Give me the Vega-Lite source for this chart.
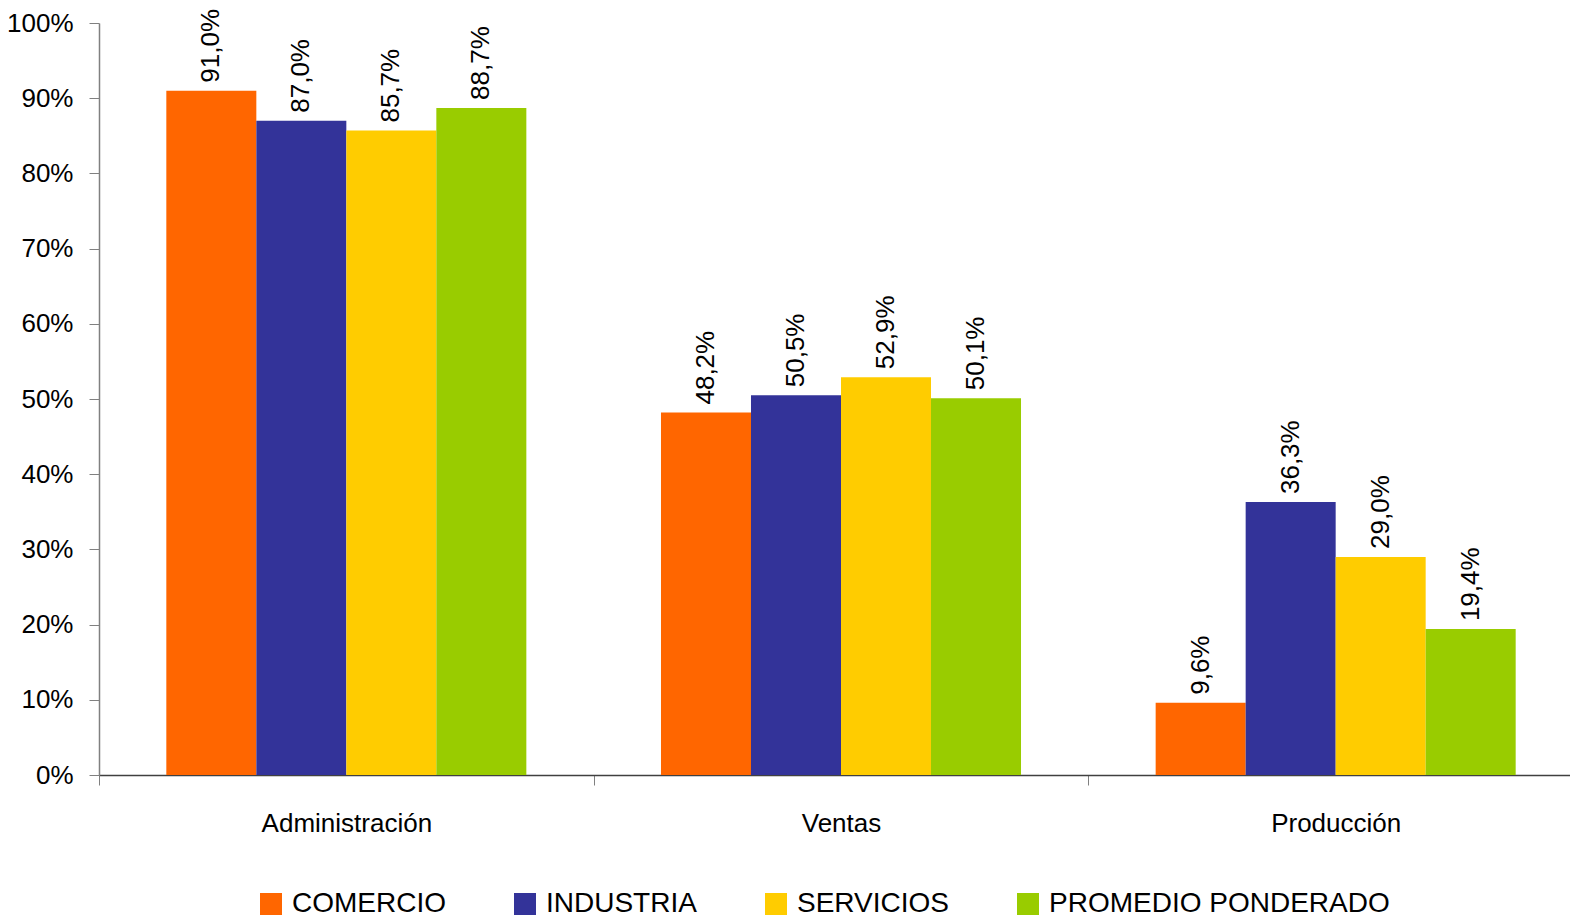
{
  "$schema": "https://vega.github.io/schema/vega-lite/v6.json",
  "width": 1484,
  "height": 752,
  "autosize": {"type": "none"},
  "padding": {"left": 99, "top": 23, "right": -13, "bottom": 143},
  "background": "white",
  "config": {
    "view": {"stroke": null},
    "font": "Liberation Sans",
    "text": {"font": "Liberation Sans"}
  },
  "data": {
    "values": [
      {"area": "Administración", "sector": "COMERCIO", "value": 91.0},
      {"area": "Administración", "sector": "INDUSTRIA", "value": 87.0},
      {"area": "Administración", "sector": "SERVICIOS", "value": 85.7},
      {"area": "Administración", "sector": "PROMEDIO PONDERADO", "value": 88.7},
      {"area": "Ventas", "sector": "COMERCIO", "value": 48.2},
      {"area": "Ventas", "sector": "INDUSTRIA", "value": 50.5},
      {"area": "Ventas", "sector": "SERVICIOS", "value": 52.9},
      {"area": "Ventas", "sector": "PROMEDIO PONDERADO", "value": 50.1},
      {"area": "Producción", "sector": "COMERCIO", "value": 9.6},
      {"area": "Producción", "sector": "INDUSTRIA", "value": 36.3},
      {"area": "Producción", "sector": "SERVICIOS", "value": 29.0},
      {"area": "Producción", "sector": "PROMEDIO PONDERADO", "value": 19.4}
    ]
  },
  "transform": [
    {"calculate": "replace(format(datum.value, '.1f'), '.', ',') + '%'", "as": "label"}
  ],
  "encoding": {
    "x": {
      "field": "area",
      "type": "nominal",
      "sort": ["Administración", "Ventas", "Producción"],
      "scale": {"paddingInner": 0, "paddingOuter": 0},
      "axis": {
        "title": null,
        "labelAngle": 0,
        "labelFont": "Liberation Sans",
        "labelFontSize": 26,
        "labelColor": "#000",
        "labelPadding": 25,
        "labelLimit": 400,
        "tickBand": "extent",
        "tickSize": 10,
        "tickColor": "#808080",
        "domainColor": "#404040",
        "domainWidth": 1.5
      }
    },
    "xOffset": {
      "field": "sector",
      "type": "nominal",
      "sort": ["COMERCIO", "INDUSTRIA", "SERVICIOS", "PROMEDIO PONDERADO"],
      "scale": {"paddingInner": 0, "paddingOuter": 0.748}
    },
    "y": {
      "field": "value",
      "type": "quantitative",
      "scale": {"domain": [0, 100], "nice": false},
      "axis": {
        "title": null,
        "values": [0, 10, 20, 30, 40, 50, 60, 70, 80, 90, 100],
        "labelExpr": "datum.value + '%'",
        "grid": false,
        "labelFont": "Liberation Sans",
        "labelFontSize": 26,
        "labelColor": "#000",
        "labelPadding": 16,
        "tickSize": 10,
        "tickColor": "#808080",
        "domainColor": "#808080",
        "domainWidth": 1.5
      }
    }
  },
  "layer": [
    {
      "mark": {"type": "bar"},
      "encoding": {
        "color": {
          "field": "sector",
          "type": "nominal",
          "sort": ["COMERCIO", "INDUSTRIA", "SERVICIOS", "PROMEDIO PONDERADO"],
          "scale": {
            "domain": ["COMERCIO", "INDUSTRIA", "SERVICIOS", "PROMEDIO PONDERADO"],
            "range": ["#FF6600", "#333399", "#FFCC00", "#99CC00"]
          },
          "legend": {
            "title": null,
            "orient": "none",
            "direction": "horizontal",
            "legendX": 158,
            "legendY": 867,
            "symbolType": "square",
            "symbolSize": 484,
            "symbolStrokeWidth": 0,
            "labelFont": "Liberation Sans",
            "labelFontSize": 28,
            "labelColor": "#000",
            "labelOffset": 7,
            "columnPadding": 65,
            "labelLimit": 400
          }
        }
      }
    },
    {
      "mark": {
        "type": "text",
        "angle": 270,
        "align": "left",
        "baseline": "middle",
        "dx": 8,
        "fontSize": 26,
        "font": "Liberation Sans",
        "color": "#000"
      },
      "encoding": {
        "text": {"field": "label"}
      }
    }
  ]
}
